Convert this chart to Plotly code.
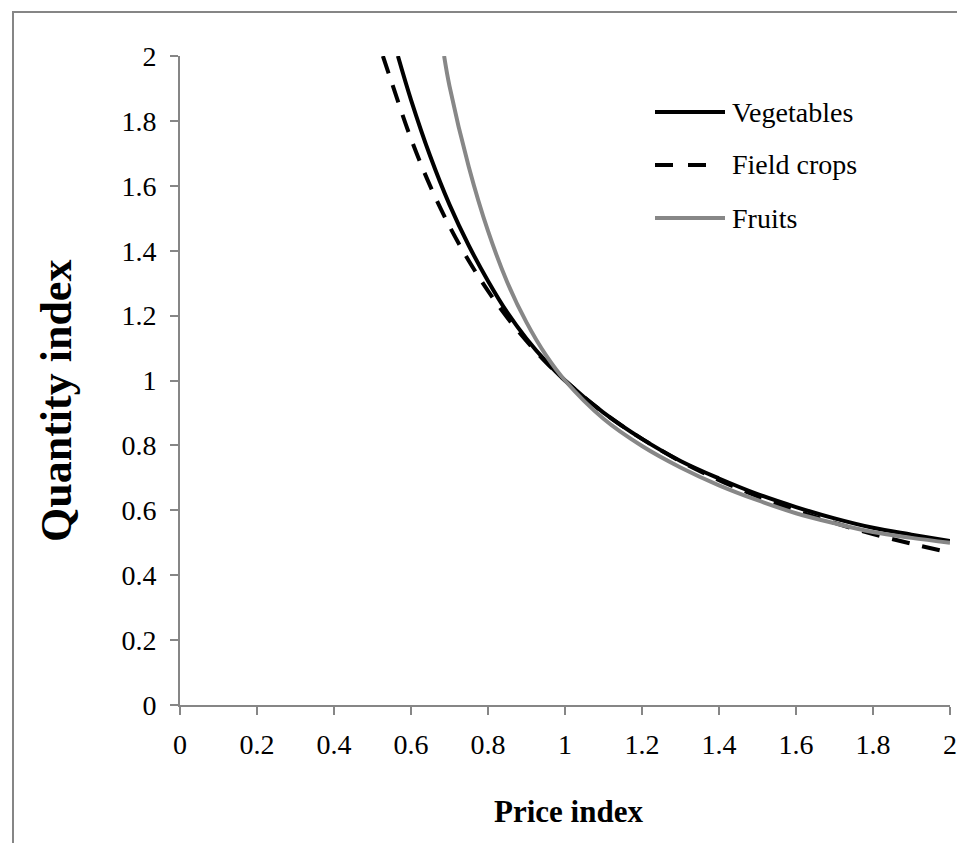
import plotly.graph_objects as go

# ---- data ----
veg_price = [0.566, 0.60, 0.65, 0.70, 0.75, 0.80, 0.85, 0.90, 0.95, 1.00, 1.10, 1.20, 1.30, 1.40, 1.50, 1.60, 1.70, 1.80, 1.90, 2.00]
veg_qty   = [2.000, 1.865, 1.691, 1.542, 1.416, 1.307, 1.210, 1.129, 1.060, 1.000, 0.901, 0.820, 0.752, 0.698, 0.650, 0.610, 0.575, 0.546, 0.525, 0.505]

field_price = [0.527, 0.55, 0.60, 0.65, 0.70, 0.75, 0.80, 0.85, 0.90, 0.95, 1.00, 1.10, 1.20, 1.30, 1.40, 1.50, 1.60, 1.70, 1.80, 1.90, 2.00]
field_qty   = [2.000, 1.918, 1.745, 1.599, 1.475, 1.369, 1.276, 1.194, 1.122, 1.057, 1.000, 0.901, 0.820, 0.751, 0.693, 0.643, 0.599, 0.561, 0.527, 0.497, 0.470]

fruit_price = [0.686, 0.70, 0.75, 0.80, 0.85, 0.90, 0.95, 1.00, 1.10, 1.20, 1.30, 1.40, 1.50, 1.60, 1.70, 1.80, 1.90, 2.00]
fruit_qty   = [2.000, 1.907, 1.659, 1.461, 1.303, 1.179, 1.079, 1.000, 0.882, 0.798, 0.732, 0.677, 0.631, 0.591, 0.560, 0.533, 0.515, 0.500]

series_names = ["Vegetables", "Field crops", "Fruits"]
tick_vals = [0, 0.2, 0.4, 0.6, 0.8, 1, 1.2, 1.4, 1.6, 1.8, 2]
tick_text = ["0", "0.2", "0.4", "0.6", "0.8", "1", "1.2", "1.4", "1.6", "1.8", "2"]

FONT = "Liberation Serif"
AXIS_GRAY = "#868686"
FRUIT_GRAY = "#878787"

W, H = 965, 843
ML, MR, MT, MB = 172, 23, 48, 146
PW, PH = W - ML - MR, H - MT - MB

def px(x):
    return (x - ML) / PW

def py(y):
    return (H - MB - y) / PH

fig = go.Figure()
fig.add_trace(go.Scatter(x=veg_price, y=veg_qty, mode="lines", name=series_names[0],
                         line=dict(color="black", width=4, shape="spline", smoothing=1)))
fig.add_trace(go.Scatter(x=field_price, y=field_qty, mode="lines", name=series_names[1],
                         line=dict(color="black", width=4, dash="18px,13px", shape="spline", smoothing=1)))
fig.add_trace(go.Scatter(x=fruit_price, y=fruit_qty, mode="lines", name=series_names[2],
                         line=dict(color=FRUIT_GRAY, width=4, shape="spline", smoothing=1)))

axis_common = dict(range=[0, 2], showgrid=False, zeroline=False, showline=True,
                   linecolor=AXIS_GRAY, linewidth=2, ticks="outside", ticklen=8,
                   tickcolor=AXIS_GRAY, tickwidth=1.5, tickvals=tick_vals, ticktext=tick_text,
                   tickfont=dict(family=FONT, size=28, color="black"), fixedrange=True)

fig.update_layout(
    width=W, height=H,
    margin=dict(l=ML, r=MR, t=MT, b=MB),
    paper_bgcolor="white", plot_bgcolor="white",
    showlegend=False,
    xaxis=dict(**axis_common, ticklabelstandoff=5),
    yaxis=dict(**axis_common, ticklabelstandoff=8),
)

# manual legend (long sample lines as in the original)
rows = [104, 157, 210]
styles = [dict(color="black", width=4), dict(color="black", width=4, dash="18px,15px"),
          dict(color=FRUIT_GRAY, width=4)]
ends = [717, 700, 717]
for name, r, st, e in zip(series_names, rows, styles, ends):
    fig.add_shape(type="line", xref="paper", yref="paper", x0=px(647), x1=px(e),
                  y0=py(r), y1=py(r), line=st)
    fig.add_annotation(xref="paper", yref="paper", x=px(722), y=py(r), text=name,
                       showarrow=False, xanchor="left", yanchor="middle",
                       font=dict(family=FONT, size=28, color="black"))

# axis titles
fig.add_annotation(xref="paper", yref="paper", x=px(560), y=py(803), text="<b>Price index</b>",
                   showarrow=False, xanchor="center", yanchor="middle",
                   font=dict(family=FONT, size=31, color="black"))
fig.add_annotation(xref="paper", yref="paper", x=px(48), y=py(393), text="<b>Quantity index</b>",
                   showarrow=False, xanchor="center", yanchor="middle", textangle=-90,
                   font=dict(family=FONT, size=44, color="black"))

# outer frame (top and left visible)
fig.add_shape(type="path", xref="paper", yref="paper",
              path=f"M {px(5)},{py(845)} L {px(5)},{py(4)} L {px(967)},{py(4)}",
              line=dict(color=AXIS_GRAY, width=2))

fig.write_html("out.html")
